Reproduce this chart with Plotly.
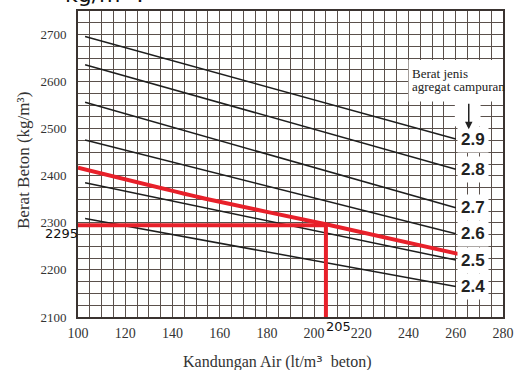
import plotly.graph_objects as go

# ---- data ----
gravity_labels = ["2.9", "2.8", "2.7", "2.6", "2.5", "2.4"]
line_x_start = 103
line_x_end = 260
line_y_start = [2696, 2636, 2556, 2476, 2385, 2309]
line_y_end = [2478, 2414, 2332, 2277, 2221, 2165]

red_curve_x = [100, 155, 205, 261]
red_curve_y = [2417, 2350, 2297, 2234]

read_water = 205
read_weight = 2295

x_ticks = [100, 120, 140, 160, 180, 200, 220, 240, 260, 280]
y_ticks = [2100, 2200, 2300, 2400, 2500, 2600, 2700]

GRID = "#5a504b"
SERIF = "Liberation Serif"
SANS = "DejaVu Sans"

fig = go.Figure()

for lab, y0, y1 in zip(gravity_labels, line_y_start, line_y_end):
    fig.add_trace(go.Scatter(x=[line_x_start, line_x_end], y=[y0, y1], mode="lines",
                             line=dict(color="#1e1e1e", width=1.5), showlegend=False,
                             hoverinfo="skip"))

fig.add_trace(go.Scatter(x=red_curve_x, y=red_curve_y, mode="lines",
                         line=dict(color="#e8202a", width=4, shape="spline", smoothing=0.6),
                         showlegend=False))
fig.add_trace(go.Scatter(x=[x_ticks[0], read_water], y=[read_weight, read_weight], mode="lines",
                         line=dict(color="#e8202a", width=4), showlegend=False))
fig.add_trace(go.Scatter(x=[read_water, read_water], y=[read_weight, y_ticks[0]], mode="lines",
                         line=dict(color="#e8202a", width=4), showlegend=False))

annotations = []
for lab, y1 in zip(gravity_labels, line_y_end):
    annotations.append(dict(x=line_x_end, y=y1, xref="x", yref="y", text="<b>%s</b>" % lab,
                            showarrow=False, xanchor="left", yanchor="middle", xshift=1,
                            font=dict(family="Liberation Sans", size=17, color="#222"),
                            bgcolor="white", borderpad=3))

# white backing for the legend caption
shapes = [
    dict(type="rect", xref="x", yref="y", x0=240, x1=280, y0=2558, y1=2646,
         fillcolor="white", line=dict(width=0), layer="between"),
    dict(type="rect", xref="x", yref="y", x0=259.6, x1=270.5, y0=2505, y1=2560,
         fillcolor="white", line=dict(width=0), layer="between"),
]
annotations.append(dict(x=240.5, y=2618, xref="x", yref="y", text="Berat jenis",
                        showarrow=False, xanchor="left", yanchor="middle",
                        font=dict(family=SERIF, size=13, color="#222")))
annotations.append(dict(x=240.5, y=2590, xref="x", yref="y", text="agregat campuran",
                        showarrow=False, xanchor="left", yanchor="middle",
                        font=dict(family=SERIF, size=13, color="#222")))
annotations.append(dict(x=265.5, y=2499, xref="x", yref="y", text="", showarrow=True,
                        ax=0, ay=-27, arrowhead=2, arrowsize=1, arrowwidth=1.5, arrowcolor="#222"))

annotations.append(dict(x=0, y=read_weight, xref="paper", yref="y", text=str(read_weight),
                        showarrow=False, xanchor="right", yanchor="top", yshift=1, xshift=2,
                        font=dict(family=SANS, size=13, color="#111")))
annotations.append(dict(x=read_water, y=0, xref="x", yref="paper", text=str(read_water),
                        showarrow=False, xanchor="left", yanchor="top", xshift=-2,
                        font=dict(family=SANS, size=13, color="#111")))

annotations.append(dict(x=-0.127, y=0.51, xref="paper", yref="paper",
                        text="Berat Beton (kg/m³)", textangle=-90, showarrow=False,
                        xanchor="center", yanchor="middle",
                        font=dict(family=SERIF, size=17, color="#333")))
annotations.append(dict(x=0.47, y=-0.108, xref="paper", yref="paper",
                        text="Kandungan Air (lt/m<span style='font-family:DejaVu Sans'>³</span>  beton)",
                        showarrow=False, xanchor="center", yanchor="top",
                        font=dict(family=SERIF, size=16, color="#333")))
annotations.append(dict(x=-0.035, y=1, xref="paper", yref="paper", text="kg/m³ :",
                        showarrow=False, xanchor="left", yanchor="bottom", yshift=2,
                        font=dict(family=SANS, size=22, color="#111")))

fig.update_layout(
    width=523, height=370,
    margin=dict(l=78, r=16, t=9, b=53),
    paper_bgcolor="white", plot_bgcolor="white",
    annotations=annotations, shapes=shapes,
    xaxis=dict(range=[100, 280], tickvals=x_ticks, showgrid=True, gridcolor=GRID, gridwidth=1.2,
               minor=dict(dtick=5, showgrid=True, gridcolor=GRID, gridwidth=1.2),
               showline=True, mirror=True, linecolor="#3a3330", linewidth=2,
               ticks="", zeroline=False, ticklabelstandoff=2,
               tickfont=dict(family=SERIF, size=14, color="#333")),
    yaxis=dict(range=[2100, 2750], tickvals=y_ticks, showgrid=True, gridcolor=GRID, gridwidth=1.2,
               minor=dict(dtick=25, showgrid=True, gridcolor=GRID, gridwidth=1.2),
               showline=True, mirror=True, linecolor="#3a3330", linewidth=2,
               ticks="", zeroline=False, ticklabelstandoff=7,
               tickfont=dict(family=SERIF, size=13, color="#333")),
)

fig.write_html("out.html")
